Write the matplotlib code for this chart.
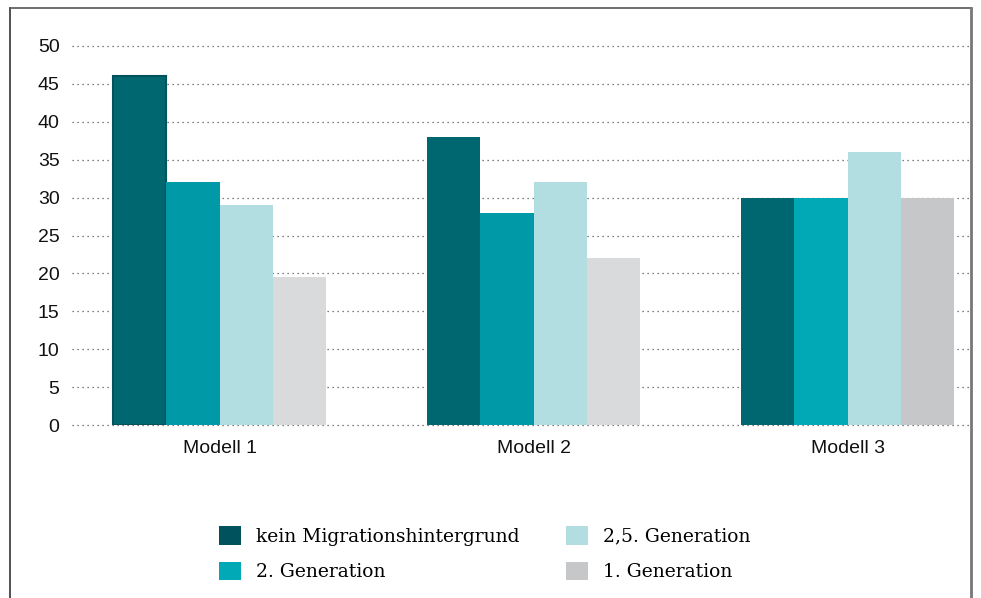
import matplotlib
matplotlib.use("Agg")
import matplotlib.pyplot as plt
import numpy as np
from matplotlib.lines import Line2D
from matplotlib.patches import Patch

categories = ["Modell 1", "Modell 2", "Modell 3"]
series_names = ["kein Migrationshintergrund", "2. Generation", "2,5. Generation", "1. Generation"]
kein_migration = [46, 38, 30]
gen_2 = [32, 28, 30]
gen_25 = [29, 32, 36]
gen_1 = [19.5, 22, 30]
yticks = [0, 5, 10, 15, 20, 25, 30, 35, 40, 45, 50]

# per-bar colours (groups differ slightly in the original)
bar_colors = [
    ["#006770", "#006770", "#006770"],
    ["#0099a8", "#0099a8", "#00a9b5"],
    ["#b2dee1", "#b2dee1", "#b2dee1"],
    ["#d9dadc", "#d9dadc", "#c6c7c9"],
]
legend_colors = ["#00525c", "#00a9b5", "#b2dee1", "#c6c7c9"]

fig = plt.figure(figsize=(9.81, 5.98), dpi=100)
ax = fig.add_axes([72/981, 1-425/598, 898/981, 379/598])

x = np.arange(len(categories))
w = 0.17
all_series = [kein_migration, gen_2, gen_25, gen_1]
for i, vals in enumerate(all_series):
    offs = (i - 1.5) * w
    bars = ax.bar(x + offs, vals, width=w, color=bar_colors[i], zorder=3, linewidth=0)
    if i == 0:
        bars[0].set_edgecolor("#00525c")
        bars[0].set_linewidth(1.5)

ax.set_xlim(-0.47, 2.39)
ax.set_ylim(0, 50)
ax.set_yticks(yticks)
ax.set_xticks(x)
ax.set_xticklabels(categories)
for s in ax.spines.values():
    s.set_visible(False)
ax.tick_params(axis="both", length=0, labelsize=14, colors="#111111")
ax.tick_params(axis="y", pad=9)
ax.tick_params(axis="x", pad=11)
for lab in ax.get_xticklabels() + ax.get_yticklabels():
    lab.set_family(["Liberation Sans", "DejaVu Sans"])
ax.yaxis.grid(True, linestyle=(0, (1, 3)), color="#555555", linewidth=0.9, zorder=0)
for gl in ax.get_ygridlines():
    gl.set_clip_on(False)

handles = [Patch(facecolor=c, edgecolor="none") for c in legend_colors]
leg = fig.legend(handles, series_names, ncol=2, loc="upper left",
                 bbox_to_anchor=(202/981, 1-509/598), frameon=False,
                 prop={"family": ["DejaVu Serif"], "size": 13.5},
                 handlelength=1.17, handleheight=1.17, handletextpad=0.8,
                 columnspacing=2.5, labelspacing=0.85)

# outer frame
fig.add_artist(Line2D([10/981, 10/981], [0, 1-8/598], transform=fig.transFigure, color="#333333", lw=1.2))
fig.add_artist(Line2D([10/981, 971/981], [1-8/598, 1-8/598], transform=fig.transFigure, color="#555555", lw=1.2))
fig.add_artist(Line2D([971/981, 971/981], [0, 1-8/598], transform=fig.transFigure, color="#777777", lw=2))

fig.savefig("out.png", dpi=100)
